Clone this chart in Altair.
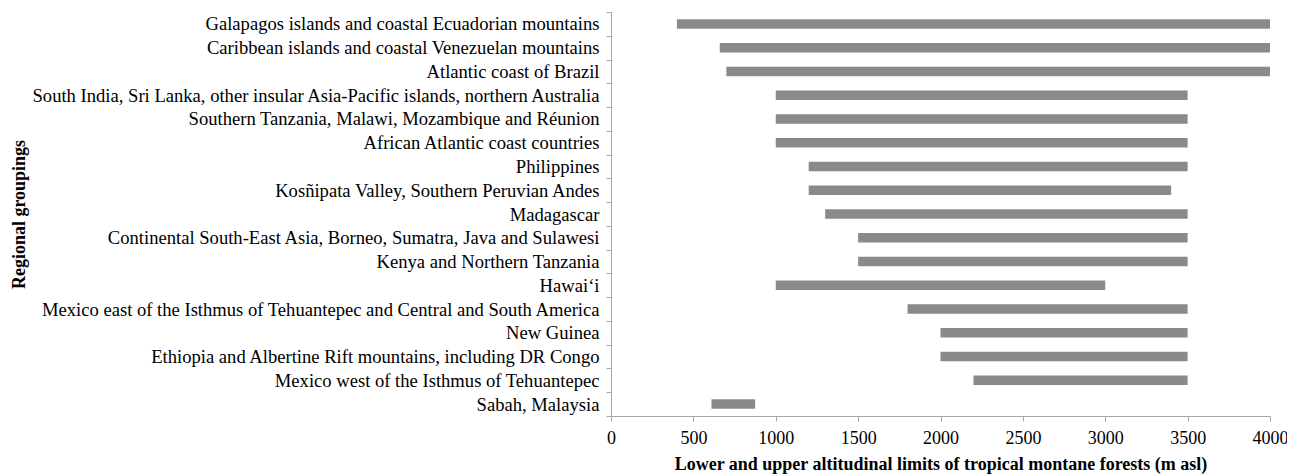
import altair as alt
import pandas as pd

regions = [
    "Galapagos islands and coastal Ecuadorian mountains",
    "Caribbean islands and coastal Venezuelan mountains",
    "Atlantic coast of Brazil",
    "South India, Sri Lanka, other insular Asia-Pacific islands, northern Australia",
    "Southern Tanzania, Malawi, Mozambique and Réunion",
    "African Atlantic coast countries",
    "Philippines",
    "Kosñipata Valley, Southern Peruvian Andes",
    "Madagascar",
    "Continental South-East Asia, Borneo, Sumatra, Java and Sulawesi",
    "Kenya and Northern Tanzania",
    "Hawai‘i",
    "Mexico east of the Isthmus of Tehuantepec and Central and South America",
    "New Guinea",
    "Ethiopia and Albertine Rift mountains, including DR Congo",
    "Mexico west of the Isthmus of Tehuantepec",
    "Sabah, Malaysia",
]
lower = [400, 660, 700, 1000, 1000, 1000, 1200, 1200, 1300, 1500, 1500, 1000, 1800, 2000, 2000, 2200, 610]
upper = [4000, 4000, 4000, 3500, 3500, 3500, 3500, 3400, 3500, 3500, 3500, 3000, 3500, 3500, 3500, 3500, 875]
x_ticks = [0, 500, 1000, 1500, 2000, 2500, 3000, 3500, 4000]

df = pd.DataFrame({"region": regions, "lower": lower, "upper": upper})

FONT = "Liberation Serif"
AXIS_GRAY = "#a6a6a6"

chart = (
    alt.Chart(df)
    .mark_bar(size=9.5, color="#8a8a8a")
    .encode(
        y=alt.Y(
            "region:N",
            sort=regions,
            scale=alt.Scale(paddingInner=0, paddingOuter=0),
            axis=alt.Axis(
                title="Regional groupings",
                titleFont=FONT,
                titleFontSize=18,
                titleFontWeight="bold",
                titleColor="black",
                titleX=-592,
                titleY=202,
                titleAngle=-90,
                titleAlign="center",
                titleBaseline="middle",
                labelFont=FONT,
                labelFontSize=18.6,
                labelColor="black",
                labelPadding=7,
                labelLimit=700,
                tickBand="extent",
                tickSize=5,
                tickColor=AXIS_GRAY,
                domainColor=AXIS_GRAY,
                grid=False,
            ),
        ),
        x=alt.X(
            "lower:Q",
            scale=alt.Scale(domain=[0, 4000], nice=False),
            axis=alt.Axis(
                title="Lower and upper altitudinal limits of tropical montane forests (m asl)",
                values=x_ticks,
                format="d",
                titleFont=FONT,
                titleFontSize=18,
                titleFontWeight="bold",
                titleColor="black",
                titleY=48,
                titleAlign="center",
                titleBaseline="middle",
                labelFont=FONT,
                labelFontSize=18,
                labelColor="black",
                labelPadding=8,
                labelFlush=False,
                tickSize=5,
                tickColor=AXIS_GRAY,
                domainColor=AXIS_GRAY,
                grid=False,
            ),
        ),
        x2="upper:Q",
    )
    .properties(
        width=659,
        height=404,
        autosize=alt.AutoSizeParams(type="none"),
        padding={"left": 603, "top": 4, "right": 17, "bottom": 62},
    )
    .configure_view(stroke=None)
)

chart.save("out.html", embed_options={"renderer": "svg", "actions": False})
